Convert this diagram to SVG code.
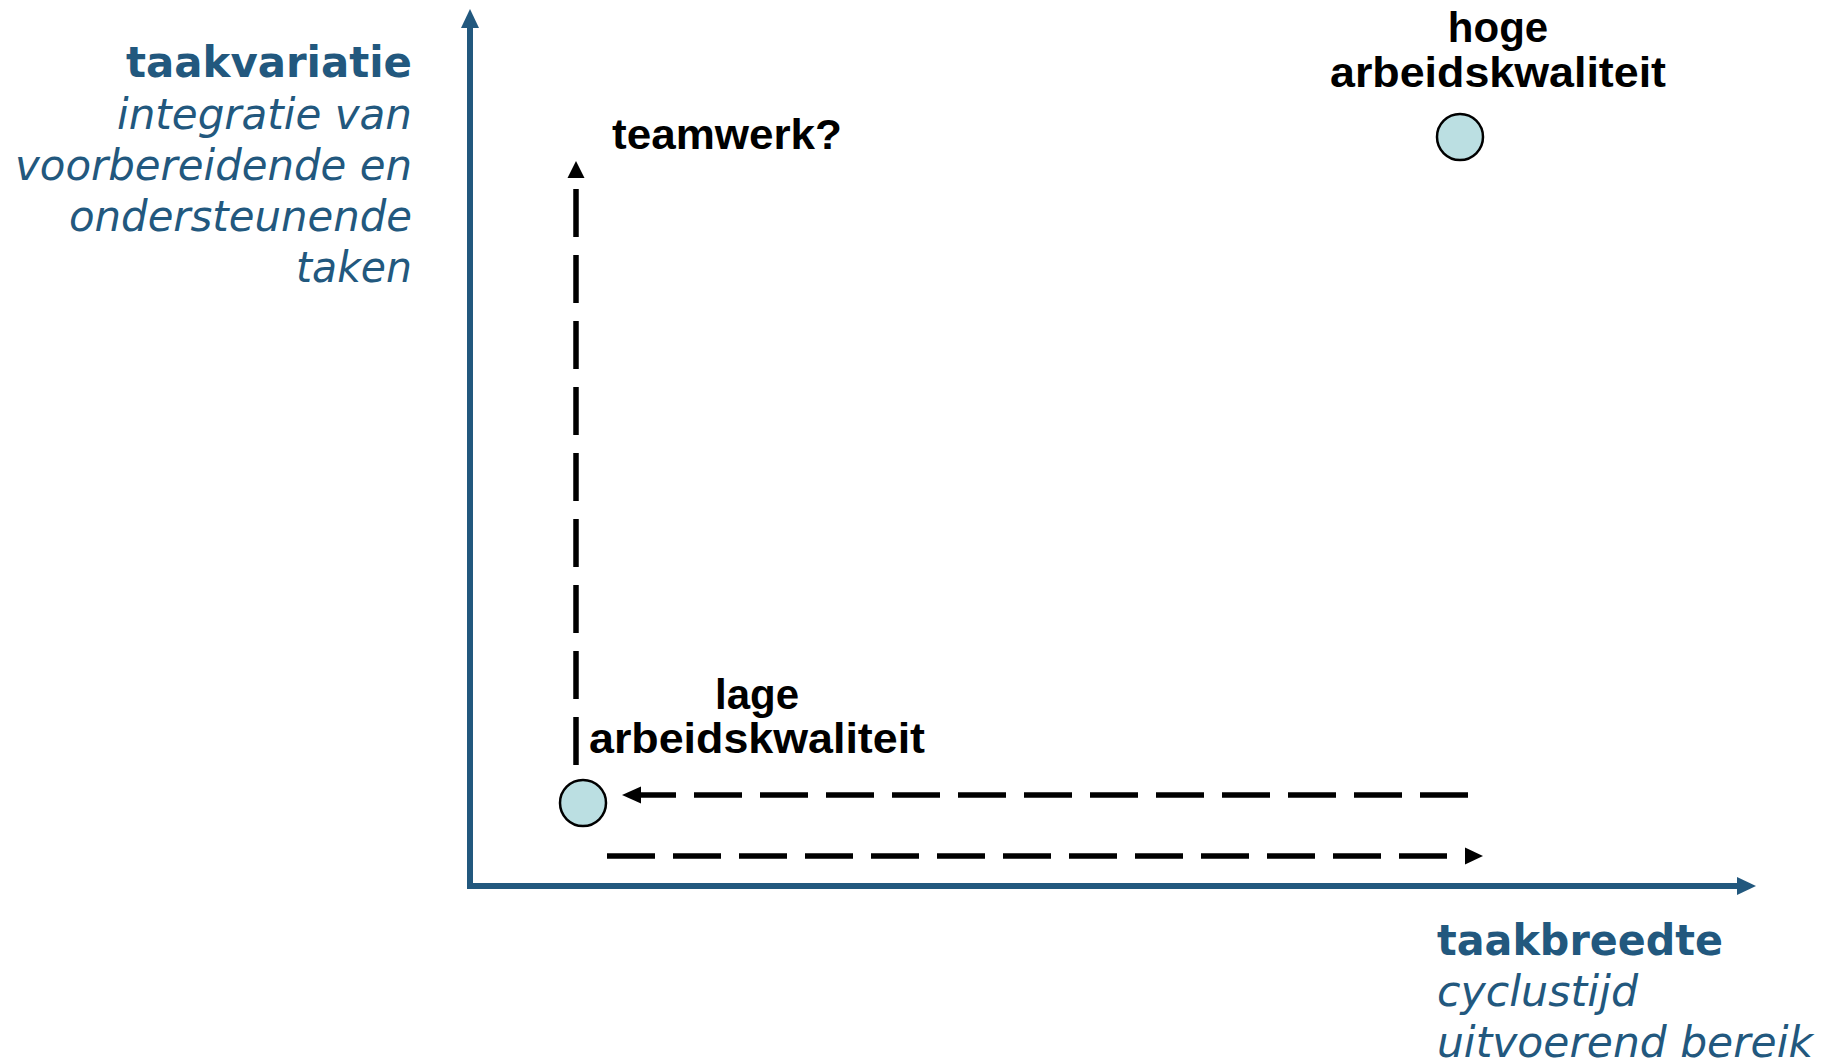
<svg xmlns="http://www.w3.org/2000/svg" width="1831" height="1060" viewBox="0 0 1831 1060">
<style>
.axis{stroke:#22587e;stroke-width:6;fill:none}
.axhead{fill:#22587e}
.dash{stroke:#000;stroke-width:5.5;fill:none;stroke-dasharray:48 18}
.head{fill:#000}
.node{fill:#bbdfe2;stroke:#000;stroke-width:2.5}
.ttl{font-family:"DejaVu Sans",Verdana,sans-serif;font-weight:bold;font-size:42px;fill:#22587e}
.sub{font-family:"DejaVu Sans",Verdana,sans-serif;font-style:italic;font-size:42px;fill:#22587e}
.lbl{font-family:"Liberation Sans",Arial,sans-serif;font-weight:bold;font-size:42px;fill:#000}
</style>
<rect width="1831" height="1060" fill="#fff"/>
<g id="axes">
<line class="axis" x1="470" y1="888" x2="470" y2="25"/>
<polygon class="axhead" points="470,9 461,28 479,28"/>
<line class="axis" x1="467" y1="886" x2="1740" y2="886"/>
<polygon class="axhead" points="1756,886 1737,877 1737,895"/>
</g>
<g id="y-label">
<text class="ttl" x="412" y="77" text-anchor="end" textLength="286" lengthAdjust="spacingAndGlyphs">taakvariatie</text>
<text class="sub" x="412" y="129" text-anchor="end" textLength="295" lengthAdjust="spacingAndGlyphs">integratie van</text>
<text class="sub" x="412" y="180" text-anchor="end" textLength="397" lengthAdjust="spacingAndGlyphs">voorbereidende en</text>
<text class="sub" x="412" y="231" text-anchor="end" textLength="343" lengthAdjust="spacingAndGlyphs">ondersteunende</text>
<text class="sub" x="412" y="282" text-anchor="end" textLength="116" lengthAdjust="spacingAndGlyphs">taken</text>
</g>
<g id="x-label">
<text class="ttl" x="1437" y="955" textLength="286" lengthAdjust="spacingAndGlyphs">taakbreedte</text>
<text class="sub" x="1437" y="1006" textLength="201" lengthAdjust="spacingAndGlyphs">cyclustijd</text>
<text class="sub" x="1437" y="1057" textLength="376" lengthAdjust="spacingAndGlyphs">uitvoerend bereik</text>
</g>
<g id="connectors">
<line class="dash" x1="576" y1="765" x2="576" y2="189"/>
<polygon class="head" points="576,161 567.5,178 584.5,178"/>
<line class="dash" x1="1468" y1="795" x2="640" y2="795"/>
<polygon class="head" points="622,795 641,786.5 641,803.5"/>
<line class="dash" x1="607" y1="856" x2="1447" y2="856"/>
<polygon class="head" points="1483,856 1465,847.5 1465,864.5"/>
</g>
<g id="node-high">
<circle class="node" cx="1460" cy="137" r="23"/>
<text class="lbl" x="1498" y="42" text-anchor="middle">hoge</text>
<text class="lbl" x="1498" y="87" text-anchor="middle" textLength="336" lengthAdjust="spacingAndGlyphs">arbeidskwaliteit</text>
</g>
<g id="node-low">
<circle class="node" cx="583" cy="803" r="23"/>
<text class="lbl" x="757" y="709" text-anchor="middle">lage</text>
<text class="lbl" x="757" y="753" text-anchor="middle" textLength="336" lengthAdjust="spacingAndGlyphs">arbeidskwaliteit</text>
</g>
<g id="label-teamwerk">
<text class="lbl" x="612" y="149" textLength="230" lengthAdjust="spacingAndGlyphs">teamwerk?</text>
</g>
</svg>
